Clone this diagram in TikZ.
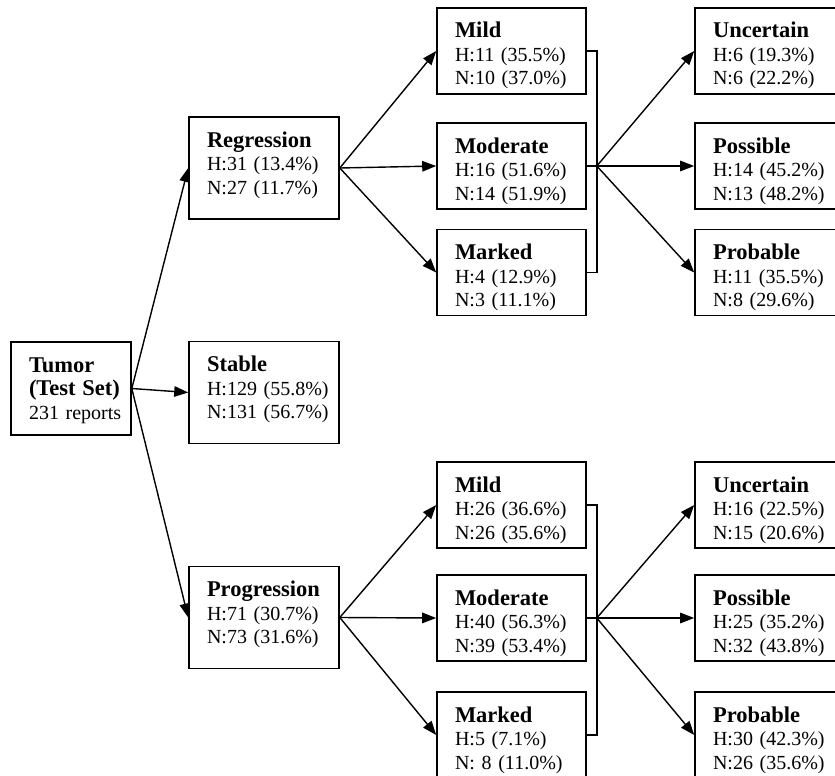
\documentclass[tikz,border=0pt]{standalone}
\usepackage{fontspec}
\setmainfont{Liberation Serif}
\usetikzlibrary{arrows.meta,positioning}
\newcommand{\grp}[1]{{\fontsize{22.5}{23.5}\selectfont\bfseries #1}}

\begin{document}
\begin{tikzpicture}[
        x=1pt, y=-1pt,
        font=\fontsize{20}{23.5}\selectfont,
        box/.style={
            draw=black,
            line width=1.6pt,
            align=left,
            text width=150pt,
            inner xsep=0pt,
            inner ysep=0pt,
            text height=30pt,
            text depth=72pt,
            execute at begin node={\leftskip=18pt\relax}
        },
        grade/.style={
            box,
            text width=149pt,
            text depth=56pt
        },
        root/.style={
            box,
            text width=120pt,
            text depth=63pt
        },
        arrow/.style={
            -{Triangle[length=14pt,width=10.5pt]},
            draw=black,
            line width=1.4pt
        },
        link/.style={
            draw=black,
            line width=1.4pt
        }
    ]

    \useasboundingbox (0,0) rectangle (835,776);
    \clip (0,0) rectangle (835,776);

    % Root and first split
    \node[root] (tumor) at (71,388.5) {\grp{Tumor}\\\grp{(Test Set)}\\231 reports};
    \node[box] (reg) at (264,168) {\grp{Regression}\\H:31 (13.4\%)\\N:27 (11.7\%)};
    \node[box] (stab) at (264,392.5) {\grp{Stable}\\H:129 (55.8\%)\\N:131 (56.7\%)};
    \node[box] (prog) at (264,617.5) {\grp{Progression}\\H:71 (30.7\%)\\N:73 (31.6\%)};

    \draw[arrow] (tumor.east) -- (reg.west);
    \draw[arrow] (tumor.east) -- (stab.west);
    \draw[arrow] (tumor.east) -- (prog.west);

    % Regression branch
    \node[grade] (mild1) at (511.5,51) {\grp{Mild}\\H:11 (35.5\%)\\N:10 (37.0\%)};
    \node[grade] (mod1) at (511.5,166) {\grp{Moderate}\\H:16 (51.6\%)\\N:14 (51.9\%)};
    \node[grade] (mark1) at (511.5,272.5) {\grp{Marked}\\H:4 (12.9\%)\\N:3 (11.1\%)};

    \draw[arrow] (reg.east) -- (mild1.west);
    \draw[arrow] (reg.east) -- (mod1.west);
    \draw[arrow] (reg.east) -- (mark1.west);

    \coordinate (j1) at ([xshift=10pt]mod1.east);
    \draw[link] (mild1.east) -| (j1) |- (mark1.east);
    \draw[link] (mod1.east) -- (j1);

    \node[grade] (unc1) at (769.5,51) {\grp{Uncertain}\\H:6 (19.3\%)\\N:6 (22.2\%)};
    \node[grade] (pos1) at (769.5,166) {\grp{Possible}\\H:14 (45.2\%)\\N:13 (48.2\%)};
    \node[grade] (prob1) at (769.5,272.5) {\grp{Probable}\\H:11 (35.5\%)\\N:8 (29.6\%)};

    \draw[arrow] (j1) -- (unc1.west);
    \draw[arrow] (j1) -- (pos1.west);
    \draw[arrow] (j1) -- (prob1.west);

    % Progression branch
    \node[grade] (mild2) at (511.5,505) {\grp{Mild}\\H:26 (36.6\%)\\N:26 (35.6\%)};
    \node[grade] (mod2) at (511.5,618) {\grp{Moderate}\\H:40 (56.3\%)\\N:39 (53.4\%)};
    \node[grade] (mark2) at (511.5,735) {\grp{Marked}\\H:5 (7.1\%)\\N: 8 (11.0\%)};

    \draw[arrow] (prog.east) -- (mild2.west);
    \draw[arrow] (prog.east) -- (mod2.west);
    \draw[arrow] (prog.east) -- (mark2.west);

    \coordinate (j2) at ([xshift=10pt]mod2.east);
    \draw[link] (mild2.east) -| (j2) |- (mark2.east);
    \draw[link] (mod2.east) -- (j2);

    \node[grade] (unc2) at (769.5,505) {\grp{Uncertain}\\H:16 (22.5\%)\\N:15 (20.6\%)};
    \node[grade] (pos2) at (769.5,618) {\grp{Possible}\\H:25 (35.2\%)\\N:32 (43.8\%)};
    \node[grade] (prob2) at (769.5,735) {\grp{Probable}\\H:30 (42.3\%)\\N:26 (35.6\%)};

    \draw[arrow] (j2) -- (unc2.west);
    \draw[arrow] (j2) -- (pos2.west);
    \draw[arrow] (j2) -- (prob2.west);

    \end{tikzpicture}
\end{document}
